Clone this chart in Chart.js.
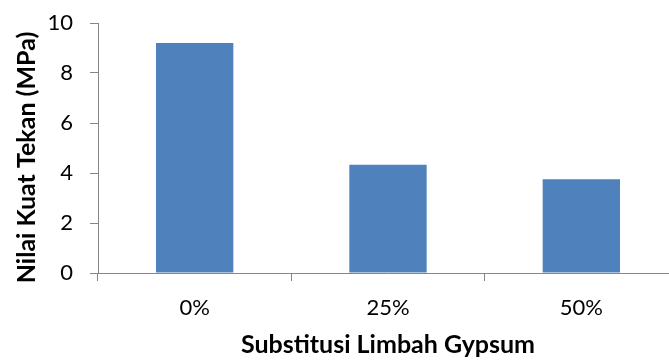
<!DOCTYPE html>
<html>
<head>
<meta charset="utf-8">
<script src="https://cdn.jsdelivr.net/npm/chart.js@4/dist/chart.umd.min.js"></script>
<style>
  html, body { margin: 0; padding: 0; background: #ffffff; overflow: hidden; }
  #wrap { width: 669px; height: 360px; overflow: hidden; }
  canvas { display: block; }
</style>
</head>
<body>
<div id="wrap"><canvas id="chart" width="682" height="360"></canvas></div>
<script>
// Compressive strength by gypsum waste substitution
const categories = ['0%', '25%', '50%'];
const strengthValues = [9.2, 4.33, 3.75];
const yTicks = [0, 2, 4, 6, 8, 10];
const xTitle = 'Substitusi Limbah Gypsum';
const yTitle = 'Nilai Kuat Tekan (MPa)';

const axisColor = '#868686';
const fontFamily = 'Lato, "Open Sans", sans-serif';

// Vertical axis title, drawn slightly below the plot's vertical centre
const yTitlePlugin = {
  id: 'yTitlePlugin',
  afterDraw(chart) {
    const { ctx, chartArea } = chart;
    ctx.save();
    ctx.font = 'bold 25px ' + fontFamily;
    ctx.fillStyle = '#000000';
    ctx.textAlign = 'center';
    ctx.textBaseline = 'alphabetic';
    ctx.translate(chartArea.left - 63, (chartArea.top + chartArea.bottom) / 2 + 9.5);
    ctx.rotate(-Math.PI / 2);
    ctx.fillText(yTitle, 0, 0);
    ctx.restore();
  }
};

new Chart(document.getElementById('chart'), {
  type: 'bar',
  data: {
    labels: categories,
    datasets: [{
      data: strengthValues,
      backgroundColor: '#4F81BD',
      borderWidth: 0,
      barPercentage: 0.4,
      categoryPercentage: 1.0
    }]
  },
  options: {
    responsive: false,
    animation: false,
    layout: { padding: { top: 23, right: 4, left: 0, bottom: 0 } },
    plugins: { legend: { display: false }, tooltip: { enabled: false } },
    scales: {
      x: {
        grid: {
          display: true, drawOnChartArea: false, drawTicks: true,
          tickLength: 8, color: axisColor, offset: true
        },
        border: { display: true, color: axisColor, width: 1 },
        ticks: { color: '#000000', padding: 14, font: { family: fontFamily, size: 22 } },
        title: {
          display: true, text: xTitle, color: '#000000',
          font: { family: fontFamily, size: 25, weight: 'bold' },
          padding: { top: 5, bottom: 0 }
        },
        afterFit: (scale) => { scale.height = 87; }
      },
      y: {
        min: 0, max: 10,
        afterBuildTicks: (scale) => { scale.ticks = yTicks.map(v => ({ value: v })); },
        grid: {
          display: true, drawOnChartArea: false, drawTicks: true,
          tickLength: 8, color: axisColor
        },
        border: { display: true, color: axisColor, width: 1 },
        ticks: { color: '#000000', padding: 17, font: { family: fontFamily, size: 22 } },
        afterFit: (scale) => {
          scale.width = 98;
          // keep label gap from pushing the plot down
          scale.paddingTop = 0;
          scale.paddingBottom = 0;
        }
      }
    }
  },
  plugins: [yTitlePlugin]
});
</script>
</body>
</html>
